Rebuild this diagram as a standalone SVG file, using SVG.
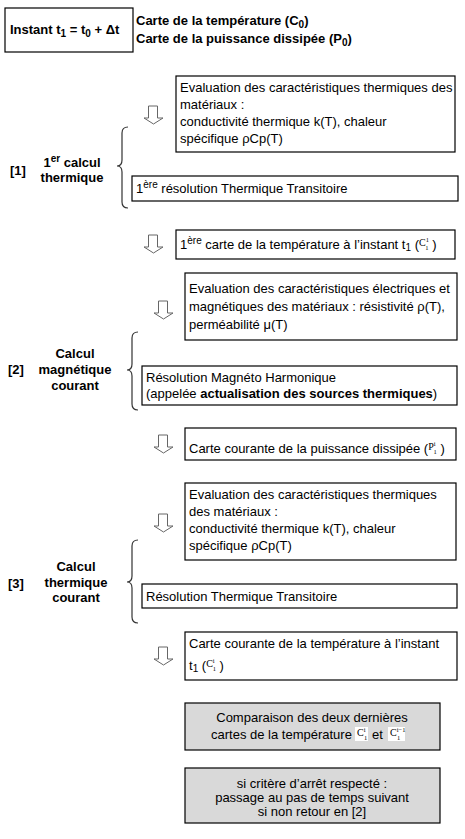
<svg xmlns="http://www.w3.org/2000/svg" width="465" height="839" viewBox="0 0 465 839">
<style>
text{font-family:"Liberation Sans",Arial,sans-serif;font-size:13px;fill:#000}
.b{font-weight:bold}
.box{fill:#fff;stroke:#000;stroke-width:1.2}
.grey{fill:#d9d9d9;stroke:#000;stroke-width:1.2}
.br{fill:none;stroke:#333;stroke-width:1.2}
.m{font-family:"Liberation Serif","Times New Roman",serif;font-size:10px}
.ms{font-family:"Liberation Serif","Times New Roman",serif;font-size:6.5px}
.sub{font-size:10px}
.c{text-anchor:middle}
</style>
<defs>
<path id="arr" d="M4.5,0 H13.5 V12 H19 L9.5,18 L0,12 H4.5 Z" fill="#fff" stroke="#666" stroke-width="1"/>
</defs>
<rect width="465" height="839" fill="#fff"/>

<g id="connectors">
<use href="#arr" x="144" y="106"/>
<use href="#arr" x="144" y="235"/>
<use href="#arr" x="154" y="301"/>
<use href="#arr" x="154" y="435"/>
<use href="#arr" x="154" y="514"/>
<use href="#arr" x="154" y="647"/>
<path class="br" d="M128,127 Q122,127 122,133 V160 Q122,166 117,166 Q122,166 122,172 V202 Q122,208 128,208"/>
<path class="br" d="M138,332 Q132,332 132,338 V364 Q132,370 127,370 Q132,370 132,376 V404 Q132,410 138,410"/>
<path class="br" d="M138,540 Q132,540 132,546 V576 Q132,582 127,582 Q132,582 132,588 V617 Q132,623 138,623"/>
</g>

<g id="instant">
<rect class="box" x="5" y="8" width="128" height="44"/>
<text class="b" x="10" y="34">Instant t<tspan class="sub" dy="3">1</tspan><tspan dy="-3"> = t</tspan><tspan class="sub" dy="3">0</tspan><tspan dy="-3"> + Δt</tspan></text>
</g>

<g id="init-maps">
<text class="b" x="136" y="25">Carte de la température (C<tspan class="sub" dy="3">0</tspan><tspan dy="-3">)</tspan></text>
<text class="b" x="136" y="43">Carte de la puissance dissipée (P<tspan class="sub" dy="3">0</tspan><tspan dy="-3">)</tspan></text>
</g>

<g id="label1">
<text class="b" x="10" y="175">[1]</text>
<text class="b c" x="72" y="167">1<tspan class="sub" dy="-5">er</tspan><tspan dy="5"> calcul</tspan></text>
<text class="b c" x="72" y="182">thermique</text>
</g>

<g id="eval-thermal-1">
<rect class="box" x="176" y="76" width="279" height="76"/>
<text x="180" y="92">Evaluation des caractéristiques thermiques des</text>
<text x="180" y="109">matériaux :</text>
<text x="180" y="126">conductivité thermique k(T), chaleur</text>
<text x="180" y="143">spécifique ρCp(T)</text>
</g>

<g id="resolution-1">
<rect class="box" x="132" y="176" width="326" height="25"/>
<text x="136" y="193">1<tspan class="sub" dy="-5">ère</tspan><tspan dy="5"> résolution Thermique Transitoire</tspan></text>
</g>

<g id="map-temp-1">
<rect class="box" x="176" y="230" width="279" height="29"/>
<text x="180" y="249">1<tspan class="sub" dy="-5">ère</tspan><tspan dy="5"> carte de la température à l’instant t</tspan><tspan class="sub" dy="2">1</tspan><tspan dy="-2"> (</tspan><tspan class="m" dy="-3">C</tspan><tspan class="ms" dy="-4">1</tspan><tspan class="ms" dx="-3.3" dy="8">1</tspan><tspan dy="-1"> )</tspan></text>
</g>

<g id="label2">
<text class="b" x="8" y="374">[2]</text>
<text class="b c" x="75" y="358">Calcul</text>
<text class="b c" x="75" y="374">magnétique</text>
<text class="b c" x="75" y="390">courant</text>
</g>

<g id="eval-elec">
<rect class="box" x="185" y="273" width="272" height="67"/>
<text x="189" y="293">Evaluation des caractéristiques électriques et</text>
<text x="189" y="311">magnétiques des matériaux : résistivité ρ(T),</text>
<text x="189" y="329">perméabilité μ(T)</text>
</g>

<g id="resolution-magneto">
<rect class="box" x="142" y="366" width="315" height="39"/>
<text x="146" y="382">Résolution Magnéto Harmonique</text>
<text x="146" y="398">(appelée <tspan class="b">actualisation des sources thermiques</tspan>)</text>
</g>

<g id="map-power">
<rect class="box" x="185" y="428" width="271" height="32"/>
<text x="189" y="453">Carte courante de la puissance dissipée (<tspan class="m" dy="-3">P</tspan><tspan class="ms" dy="-4">i</tspan><tspan class="ms" dx="-2" dy="8">1</tspan><tspan dy="-1"> )</tspan></text>
</g>

<g id="label3">
<text class="b" x="8" y="588">[3]</text>
<text class="b c" x="76" y="571">Calcul</text>
<text class="b c" x="76" y="587">thermique</text>
<text class="b c" x="76" y="602">courant</text>
</g>

<g id="eval-thermal-2">
<rect class="box" x="185" y="483" width="271" height="77"/>
<text x="189" y="499">Evaluation des caractéristiques thermiques</text>
<text x="189" y="516">des matériaux :</text>
<text x="189" y="533">conductivité thermique k(T), chaleur</text>
<text x="189" y="550">spécifique ρCp(T)</text>
</g>

<g id="resolution-2">
<rect class="box" x="142" y="584" width="315" height="24"/>
<text x="146" y="601">Résolution Thermique Transitoire</text>
</g>

<g id="map-temp-current">
<rect class="box" x="185" y="632" width="272" height="48"/>
<text x="189" y="648">Carte courante de la température à l’instant</text>
<text x="189" y="670">t<tspan class="sub" dy="2">1</tspan><tspan dy="-2"> (</tspan><tspan class="m" dy="-3">C</tspan><tspan class="ms" dy="-4">i</tspan><tspan class="ms" dx="-2" dy="8">1</tspan><tspan dy="-1"> )</tspan></text>
</g>

<g id="compare">
<rect class="grey" x="185" y="703" width="255" height="47"/>
<rect x="355" y="727" width="13" height="14" fill="#fff"/>
<rect x="388" y="727" width="17" height="14" fill="#fff"/>
<text class="c" x="312" y="722">Comparaison des deux dernières</text>
<text x="211" y="739">cartes de la température<tspan class="m" x="357" dy="-3">C</tspan><tspan class="ms" dy="-4">i</tspan><tspan class="ms" x="364" dy="8">1</tspan><tspan x="372" dy="-1">et</tspan><tspan class="m" x="390" dy="-3">C</tspan><tspan class="ms" dy="-4">i−1</tspan><tspan class="ms" x="397" dy="8">1</tspan></text>
</g>

<g id="criterion">
<rect class="grey" x="185" y="768" width="255" height="55"/>
<text class="c" x="312" y="788">si critère d’arrêt respecté :</text>
<text class="c" x="312" y="802">passage au pas de temps suivant</text>
<text class="c" x="312" y="816">si non retour en [2]</text>
</g>
</svg>
